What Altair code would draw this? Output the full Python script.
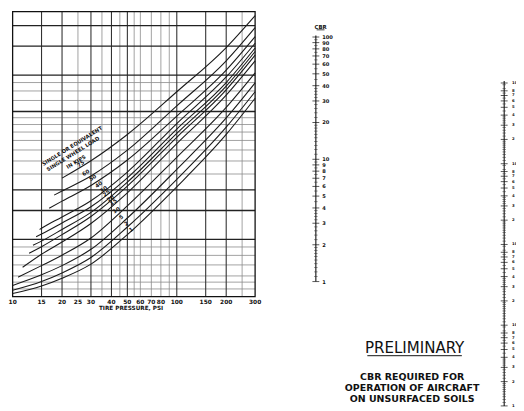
import altair as alt
import pandas as pd

# ---------------- data ----------------
psi_tick_labels = [10, 15, 20, 25, 30, 40, 50, 60, 70, 80, 100, 150, 200, 300]
psi_grid_heavy = [15, 20, 30, 40, 50, 100, 150, 200]
psi_grid_light = [25, 35, 45, 55, 60, 70, 80, 90, 250]
v_grid_heavy = [1, 1.5, 2, 6, 10, 15, 20]
v_grid_light = [0.5, 0.55, 0.6, 0.7, 0.8, 0.9, 2.5, 3, 3.5, 4, 4.5, 5, 5.5, 7, 8, 9]

loads = [1, 2, 5, 10, 15, 20, 25, 30, 40, 50, 60, 75]
curve_psi = {
    1: [10, 15, 20, 30, 50, 100, 200, 300],
    2: [10, 15, 20, 30, 50, 100, 200, 300],
    5: [10, 15, 20, 30, 50, 100, 200, 300],
    10: [10.8, 15, 20, 30, 50, 100, 200, 300],
    15: [11.5, 15, 20, 30, 50, 100, 200, 300],
    20: [12.6, 15, 20, 30, 50, 100, 200, 300],
    25: [13.3, 15, 20, 30, 50, 100, 200, 300],
    30: [13.9, 15, 20, 30, 50, 100, 200, 300],
    40: [14.6, 15, 20, 30, 50, 100, 200, 300],
    50: [16.7, 20, 30, 50, 100, 200, 300],
    60: [17.9, 20, 30, 50, 100, 200, 300],
    75: [20, 30, 50, 100, 200, 300],
}
curve_v = {
    1: [0.469, 0.521, 0.581, 0.708, 1.07, 2.09, 4.35, 7.22],
    2: [0.491, 0.555, 0.626, 0.777, 1.19, 2.32, 4.82, 7.91],
    5: [0.525, 0.609, 0.693, 0.871, 1.35, 2.67, 5.48, 8.96],
    10: [0.589, 0.693, 0.802, 1.02, 1.60, 3.16, 6.35, 10.3],
    15: [0.677, 0.813, 0.964, 1.25, 1.92, 3.83, 7.55, 12.2],
    20: [0.824, 0.904, 1.07, 1.38, 2.11, 4.18, 8.13, 13.2],
    25: [0.921, 0.977, 1.15, 1.46, 2.23, 4.41, 8.55, 13.9],
    30: [1.04, 1.08, 1.26, 1.58, 2.37, 4.69, 9.00, 14.6],
    40: [1.15, 1.17, 1.37, 1.72, 2.57, 5.07, 9.73, 15.6],
    50: [1.55, 1.71, 2.13, 3.04, 5.63, 10.7, 17.1],
    60: [1.86, 1.97, 2.43, 3.49, 6.49, 12.2, 19.4],
    75: [2.36, 3.01, 4.35, 7.91, 14.7, 23.0],
}

label_text = ["75", "60", "50", "40", "30", "25", "20", "15", "10", "5", "2", "1"]
label_psi = [26.0, 27.9, 30.7, 33.4, 35.8, 37.3, 39.4, 41.1, 42.8, 45.9, 49.1, 52.6]
label_v = [2.89, 2.55, 2.38, 2.16, 2.02, 1.91, 1.78, 1.69, 1.51, 1.37, 1.25, 1.15]

note_lines = ["SINGLE OR EQUIVALENT", "SINGLE WHEEL LOAD", "IN KIPS"]
note_psi = [23.0, 23.3, 24.3]
note_v = [3.71, 3.32, 2.97]

cbr_major = [1, 2, 3, 4, 5, 6, 7, 8, 9, 10, 20, 30, 40, 50, 60, 70, 80, 90, 100]
minor_unit = [1.1, 1.2, 1.3, 1.4, 1.5, 1.6, 1.7, 1.8, 1.9, 2.2, 2.4, 2.6, 2.8,
              3.2, 3.4, 3.6, 3.8, 4.5, 5.5, 6.5, 7.5, 8.5, 9.5]
cbr_decades = [1, 10]

right_digits = [2, 3, 4, 5, 6, 7, 8]
right_decades = [1, 10, 100, 1000]

title_lines = ["CBR REQUIRED FOR", "OPERATION OF AIRCRAFT", "ON UNSURFACED SOILS"]

# ---------------- scales / layout ----------------
X0, X1 = 4.7, 251.0
Y0, Y1 = 290.0, 0.5
XS = alt.Scale(type="log", domain=[10, 300], range=[X0, X1])
YS = alt.Scale(type="log", domain=[0.449, 24.3], range=[Y0, Y1])
CS = alt.Scale(type="log", domain=[1, 100], range=[274.7, 26.3])
RS = alt.Scale(type="log", domain=[1, 10000], range=[401.0, 73.0])
SMALL = "DejaVu Sans"

one = pd.DataFrame({"a": [0]})

layers = []

def vgrid(vals, color, width):
    return alt.Chart(pd.DataFrame({"psi": vals})).mark_rule(color=color, strokeWidth=width).encode(
        x=alt.X("psi:Q", scale=XS, axis=None), y=alt.value(Y1), y2=alt.value(Y0))

def hgrid(vals, color, width):
    return alt.Chart(pd.DataFrame({"v": vals})).mark_rule(color=color, strokeWidth=width).encode(
        y=alt.Y("v:Q", scale=YS, axis=None), x=alt.value(X0), x2=alt.value(X1))

layers += [vgrid(psi_grid_light, "#8a8a8a", 0.8), hgrid(v_grid_light, "#8a8a8a", 0.8),
           vgrid(psi_grid_heavy, "#333", 1.1), hgrid(v_grid_heavy, "#222", 1.3)]

layers.append(alt.Chart(one).mark_rect(fill=None, stroke="#111", strokeWidth=1.3).encode(
    x=alt.value(X0), x2=alt.value(X1), y=alt.value(Y1), y2=alt.value(Y0)))

rows = []
for L in loads:
    for p, v in zip(curve_psi[L], curve_v[L]):
        rows.append({"load": L, "psi": p, "v": v})
curves = pd.DataFrame(rows)
layers.append(alt.Chart(curves).mark_line(color="#1a1a1a", strokeWidth=1.1, interpolate="monotone").encode(
    x=alt.X("psi:Q", scale=XS, axis=None), y=alt.Y("v:Q", scale=YS, axis=None),
    detail="load:N", order="psi:Q"))

lab = pd.DataFrame({"t": label_text, "psi": label_psi, "v": label_v})
layers.append(alt.Chart(lab).mark_text(font=SMALL, fontSize=5.5, fontWeight="bold", angle=325, color="#111").encode(
    x=alt.X("psi:Q", scale=XS, axis=None), y=alt.Y("v:Q", scale=YS, axis=None), text="t:N"))

note = pd.DataFrame({"t": note_lines, "psi": note_psi, "v": note_v})
layers.append(alt.Chart(note).mark_text(font=SMALL, fontSize=5.3, fontWeight="bold", angle=328, color="#111").encode(
    x=alt.X("psi:Q", scale=XS, axis=None), y=alt.Y("v:Q", scale=YS, axis=None), text="t:N"))

xt = pd.DataFrame({"psi": psi_tick_labels, "t": [str(p) for p in psi_tick_labels]})
layers.append(alt.Chart(xt).mark_text(font=SMALL, fontSize=6, fontWeight="bold", color="#111", baseline="middle").encode(
    x=alt.X("psi:Q", scale=XS, axis=None), y=alt.value(295.5), text="t:N"))
layers.append(alt.Chart(pd.DataFrame({"t": ["TIRE PRESSURE, PSI"]})).mark_text(
    font=SMALL, fontSize=5.8, fontWeight="bold", color="#111").encode(
    x=alt.value(125), y=alt.value(302), text="t:N"))

# ---------------- CBR scale ----------------
CX = 312.7
cbr_minor = [m * d for d in cbr_decades for m in minor_unit]
layers.append(alt.Chart(one).mark_rule(color="#111", strokeWidth=1.1).encode(
    x=alt.value(CX), y=alt.value(24.7), y2=alt.value(274.7)))
layers.append(alt.Chart(pd.DataFrame({"c": cbr_major})).mark_tick(color="#111", thickness=1, size=7).encode(
    y=alt.Y("c:Q", scale=CS, axis=None), x=alt.value(CX)))
layers.append(alt.Chart(pd.DataFrame({"c": cbr_minor})).mark_tick(color="#333", thickness=0.8, size=3.5).encode(
    y=alt.Y("c:Q", scale=CS, axis=None), x=alt.value(CX)))
layers.append(alt.Chart(pd.DataFrame({"c": cbr_major, "t": [str(c) for c in cbr_major]})).mark_text(
    font=SMALL, fontSize=5.2, fontWeight="bold", align="left", baseline="middle", color="#111").encode(
    y=alt.Y("c:Q", scale=CS, axis=None), x=alt.value(CX + 6.5), text="t:N"))
layers.append(alt.Chart(pd.DataFrame({"t": ["CBR"]})).mark_text(
    font=SMALL, fontSize=5.5, fontWeight="bold", color="#111").encode(
    x=alt.value(317.5), y=alt.value(16), text="t:N"))
layers.append(alt.Chart(one).mark_rule(color="#111", strokeWidth=0.8).encode(
    x=alt.value(313.5), x2=alt.value(321.5), y=alt.value(19)))

# ---------------- right scale ----------------
RX = 504.0
right_major = [1] + [d * k for k in right_decades for d in right_digits] + [10 * k for k in right_decades]
right_text = ["1"] + [str(d) for k in right_decades for d in right_digits] + ["10" for k in right_decades]
right_minor = [m * d for d in right_decades for m in minor_unit]
layers.append(alt.Chart(one).mark_rule(color="#111", strokeWidth=1.1).encode(
    x=alt.value(RX), y=alt.value(71), y2=alt.value(401)))
layers.append(alt.Chart(pd.DataFrame({"c": right_major})).mark_tick(color="#111", thickness=1, size=7).encode(
    y=alt.Y("c:Q", scale=RS, axis=None), x=alt.value(RX)))
layers.append(alt.Chart(pd.DataFrame({"c": right_minor})).mark_tick(color="#333", thickness=0.8, size=3.5).encode(
    y=alt.Y("c:Q", scale=RS, axis=None), x=alt.value(RX)))
layers.append(alt.Chart(pd.DataFrame({"c": right_major, "t": right_text})).mark_text(
    font=SMALL, fontSize=3.9, fontWeight="bold", align="left", baseline="middle", color="#111").encode(
    y=alt.Y("c:Q", scale=RS, axis=None), x=alt.value(RX + 8), text="t:N"))

# ---------------- titles ----------------
layers.append(alt.Chart(pd.DataFrame({"t": ["PRELIMINARY"]})).mark_text(
    font="Liberation Sans Narrow, DejaVu Sans Condensed, Roboto, sans-serif", fontSize=17, color="#111",
    baseline="alphabetic").encode(x=alt.value(413), y=alt.value(347.5), text="t:N"))
layers.append(alt.Chart(one).mark_rule(color="#111", strokeWidth=1).encode(
    x=alt.value(365), x2=alt.value(461), y=alt.value(350)))
for line, yy in zip(title_lines, [372.0, 383.2, 394.4]):
    layers.append(alt.Chart(pd.DataFrame({"t": [line]})).mark_text(
        font="DejaVu Sans", fontSize=9.6, fontWeight="bold", color="#111", baseline="middle").encode(
        x=alt.value(410.5), y=alt.value(yy), text="t:N"))

chart = alt.layer(*layers).resolve_scale(x="independent", y="independent").properties(
    width=516, height=403, padding=0, autosize="none", background="white"
).configure_view(stroke=None)

chart.save("out.html", embed_options={"renderer": "svg", "actions": False})
